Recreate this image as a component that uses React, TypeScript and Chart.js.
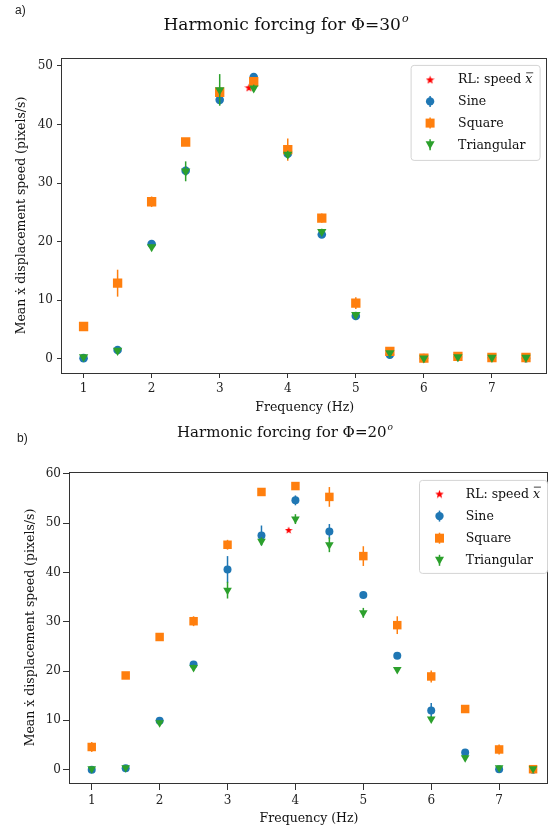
import React, { useEffect, useRef } from "react";
import { Chart, registerables } from "chart.js";

Chart.register(...registerables);

// ---------- data ----------
const freq = [1, 1.5, 2, 2.5, 3, 3.5, 4, 4.5, 5, 5.5, 6, 6.5, 7, 7.5];
const xTicks = [1, 2, 3, 4, 5, 6, 7];

// Phi = 30
const yTicks30 = [0, 10, 20, 30, 40, 50];
const rlFreq30 = [3.43];
const rlSpeed30 = [46.3];
const sine30 = [0.1, 1.5, 19.6, 32.1, 44.2, 48.1, 35.0, 21.2, 7.3, 0.7, 0.1, 0.3, 0.2, 0.1];
const sine30Err = [0.3, 0.3, 0.4, 0.8, 0.8, 0.6, 0.6, 0.5, 0.5, 0.3, 0.1, 0.1, 0.1, 0.1];
const square30 = [5.5, 12.9, 26.8, 37.0, 45.5, 47.3, 35.7, 24.0, 9.5, 1.25, 0.1, 0.4, 0.2, 0.2];
const square30Err = [0.3, 2.3, 0.9, 0.4, 0.8, 0.6, 1.9, 0.8, 1.0, 0.4, 0.1, 0.2, 0.1, 0.1];
const tri30 = [0.3, 1.4, 19.1, 32.0, 45.9, 46.2, 34.9, 21.7, 7.5, 1.0, 0.1, 0.3, 0.2, 0.2];
const tri30Err = [0.3, 0.3, 0.4, 1.7, 2.7, 0.6, 0.6, 0.5, 0.4, 0.3, 0.1, 0.1, 0.1, 0.1];

// Phi = 20
const yTicks20 = [0, 10, 20, 30, 40, 50, 60];
const rlFreq20 = [3.9];
const rlSpeed20 = [48.6];
const sine20 = [0.0, 0.3, 9.9, 21.3, 40.6, 47.5, 54.6, 48.3, 35.4, 23.1, 12.0, 3.5, 0.1, 0.0];
const sine20Err = [0.2, 0.2, 0.4, 0.5, 2.7, 2.0, 1.0, 1.5, 0.4, 0.4, 1.5, 0.7, 0.2, 0.1];
const square20 = [4.6, 19.1, 26.9, 30.1, 45.6, 56.3, 57.5, 55.3, 43.3, 29.3, 18.9, 12.3, 4.1, 0.1];
const square20Err = [1.0, 0.4, 0.4, 1.0, 1.0, 0.4, 0.4, 2.0, 2.0, 1.8, 1.2, 0.8, 1.0, 0.1];
const tri20 = [0.2, 0.4, 9.5, 20.7, 36.4, 46.3, 50.8, 45.6, 31.8, 20.3, 10.3, 2.4, 0.4, 0.2];
const tri20Err = [0.2, 0.2, 0.5, 0.6, 1.7, 0.8, 1.0, 1.5, 1.0, 0.4, 0.5, 0.6, 0.2, 0.1];

const seriesNames = ["Sine", "Square", "Triangular"];

// ---------- styles ----------
const SERIF = "'DejaVu Serif', serif";
const BLUE = "#1f77b4";
const ORANGE = "#ff7f0e";
const GREEN = "#2ca02c";
const RED = "#ff0000";
const AXIS = "#333333";

function makeStar(size: number, color: string) {
  const c = document.createElement("canvas");
  c.width = size;
  c.height = size;
  const ctx = c.getContext("2d")!;
  const cx = size / 2, cy = size / 2 + 0.4, R = size / 2, r = R * 0.42;
  ctx.beginPath();
  for (let i = 0; i < 10; i++) {
    const a = -Math.PI / 2 + (i * Math.PI) / 5;
    const rr = i % 2 === 0 ? R : r;
    ctx.lineTo(cx + rr * Math.cos(a), cy + rr * Math.sin(a));
  }
  ctx.closePath();
  ctx.fillStyle = color;
  ctx.fill();
  return c;
}

function drawMarker(ctx: CanvasRenderingContext2D, kind: string, x: number, y: number, color: string, star: HTMLCanvasElement) {
  ctx.save();
  ctx.fillStyle = color;
  ctx.strokeStyle = color;
  if (kind === "star") {
    ctx.drawImage(star, x - star.width / 2, y - star.height / 2);
    ctx.restore();
    return;
  }
  ctx.lineWidth = 1.5;
  ctx.beginPath();
  ctx.moveTo(x, y - 5.5);
  ctx.lineTo(x, y + 5.5);
  ctx.stroke();
  ctx.beginPath();
  if (kind === "circle") {
    ctx.arc(x, y, 4.2, 0, Math.PI * 2);
  } else if (kind === "rect") {
    ctx.rect(x - 4.5, y - 4.5, 9, 9);
  } else {
    ctx.moveTo(x - 4.5, y - 3.5);
    ctx.lineTo(x + 4.5, y - 3.5);
    ctx.lineTo(x, y + 4.5);
    ctx.closePath();
  }
  ctx.fill();
  ctx.restore();
}

const decorPlugin = {
  id: "decor",
  beforeDatasetDraw(chart: any, args: any) {
    const ds = chart.data.datasets[args.index];
    const err = ds.err;
    if (!err) return;
    const { ctx } = chart;
    const x = chart.scales.x, y = chart.scales.y;
    ctx.save();
    ctx.strokeStyle = ds.backgroundColor;
    ctx.lineWidth = 1.5;
    ds.data.forEach((p: any, i: number) => {
      const px = x.getPixelForValue(p.x);
      ctx.beginPath();
      ctx.moveTo(px, y.getPixelForValue(p.y - err[i]));
      ctx.lineTo(px, y.getPixelForValue(p.y + err[i]));
      ctx.stroke();
    });
    ctx.restore();
  },
  afterDraw(chart: any, _args: any, opts: any) {
    const { ctx, chartArea: ca } = chart;
    ctx.save();
    // frame
    ctx.strokeStyle = AXIS;
    ctx.lineWidth = 1;
    ctx.strokeRect(Math.round(ca.left) - 0.5, Math.round(ca.top) + 0.5, Math.round(ca.right - ca.left), Math.round(ca.bottom - ca.top));

    // panel letter
    ctx.fillStyle = "#222";
    ctx.font = "12px 'Liberation Sans', Arial, sans-serif";
    ctx.textAlign = "left";
    ctx.textBaseline = "middle";
    ctx.fillText(opts.letter, opts.letterX, opts.letterY);

    // title with superscript
    const main = opts.title;
    const sup = "o";
    ctx.font = `${opts.titleSize}px ${SERIF}`;
    const wMain = ctx.measureText(main).width;
    ctx.font = `italic ${Math.round(opts.titleSize * 0.62)}px ${SERIF}`;
    const wSup = ctx.measureText(sup).width;
    const x0 = opts.titleX - (wMain + wSup + 1) / 2;
    ctx.fillStyle = "#111";
    ctx.textBaseline = "alphabetic";
    ctx.font = `${opts.titleSize}px ${SERIF}`;
    ctx.fillText(main, x0, opts.titleY);
    ctx.font = `italic ${Math.round(opts.titleSize * 0.62)}px ${SERIF}`;
    ctx.fillText(sup, x0 + wMain + 1, opts.titleY - opts.titleSize * 0.45);

    // legend
    const lg = opts.legend;
    const bx = ca.right - lg.dxRight - lg.w;
    const by = ca.top + lg.dyTop;
    ctx.beginPath();
    const r = 3;
    ctx.moveTo(bx + r, by);
    ctx.arcTo(bx + lg.w, by, bx + lg.w, by + lg.h, r);
    ctx.arcTo(bx + lg.w, by + lg.h, bx, by + lg.h, r);
    ctx.arcTo(bx, by + lg.h, bx, by, r);
    ctx.arcTo(bx, by, bx + lg.w, by, r);
    ctx.closePath();
    ctx.fillStyle = "rgba(255,255,255,0.85)";
    ctx.fill();
    ctx.strokeStyle = "#d4d4d4";
    ctx.lineWidth = 1;
    ctx.stroke();

    const star = opts.star;
    const items = [
      { kind: "star", color: RED, label: "RL: speed " },
      { kind: "circle", color: BLUE, label: seriesNames[0] },
      { kind: "rect", color: ORANGE, label: seriesNames[1] },
      { kind: "tri", color: GREEN, label: seriesNames[2] },
    ];
    items.forEach((it, i) => {
      const yy = by + lg.row0 + i * lg.rowGap;
      drawMarker(ctx, it.kind, bx + lg.markerX, yy, it.color, star);
      ctx.fillStyle = "#111";
      ctx.font = `${lg.fontSize}px ${SERIF}`;
      ctx.textAlign = "left";
      ctx.textBaseline = "middle";
      ctx.fillText(it.label, bx + lg.textX, yy + 0.5);
      if (i === 0) {
        const w = ctx.measureText(it.label).width;
        ctx.font = `italic ${lg.fontSize}px ${SERIF}`;
        const xw = ctx.measureText("x").width;
        ctx.fillText("x", bx + lg.textX + w, yy + 0.5);
        ctx.strokeStyle = "#111";
        ctx.lineWidth = 0.8;
        ctx.beginPath();
        ctx.moveTo(bx + lg.textX + w + 1, yy - lg.fontSize * 0.55);
        ctx.lineTo(bx + lg.textX + w + xw + 1, yy - lg.fontSize * 0.55);
        ctx.stroke();
      }
    });
    ctx.restore();
  },
};

function buildConfig(p: any) {
  const mk = (vals: number[]) => vals.map((v, i) => ({ x: freq[i], y: v }));
  const star = makeStar(p.starSize, RED);
  return {
    type: "scatter",
    data: {
      datasets: [
        {
          label: "RL",
          data: p.rlF.map((f: number, i: number) => ({ x: f, y: p.rlV[i] })),
          pointStyle: star,
          backgroundColor: RED,
          order: 4,
        },
        {
          label: seriesNames[0],
          data: mk(p.sine),
          err: p.sineErr,
          pointStyle: "circle",
          pointRadius: p.circleR,
          backgroundColor: BLUE,
          borderColor: BLUE,
          pointBorderWidth: 0,
          order: 3,
        },
        {
          label: seriesNames[1],
          data: mk(p.square),
          err: p.squareErr,
          pointStyle: "rect",
          pointRadius: p.rectR,
          backgroundColor: ORANGE,
          borderColor: ORANGE,
          pointBorderWidth: 0,
          order: 2,
        },
        {
          label: seriesNames[2],
          data: mk(p.tri),
          err: p.triErr,
          pointStyle: "triangle",
          rotation: 180,
          pointRadius: p.triR,
          backgroundColor: GREEN,
          borderColor: GREEN,
          pointBorderWidth: 0,
          order: 1,
        },
      ],
    },
    options: {
      responsive: false,
      animation: false,
      devicePixelRatio: 1,
      layout: { padding: p.padding },
      plugins: {
        legend: { display: false },
        tooltip: { enabled: false },
        title: { display: false },
        decor: p.decor,
      },
      scales: {
        x: {
          type: "linear",
          min: p.xMin,
          max: p.xMax,
          afterBuildTicks: (s: any) => { s.ticks = xTicks.map((v) => ({ value: v })); },
          afterFit: (s: any) => { s.height = p.xHeight; s.paddingLeft = 0; s.paddingRight = 0; },
          ticks: { color: "#222", font: { family: SERIF, size: p.tickSize }, padding: p.xTickPad, maxRotation: 0, callback: (v: number) => String(v) },
          grid: { display: true, drawOnChartArea: false, drawTicks: true, tickLength: p.tickLen, color: AXIS, tickColor: AXIS },
          border: { display: false },
          title: { display: true, text: "Frequency (Hz)", color: "#111", font: { family: SERIF, size: p.axisTitleSize }, padding: { top: 0, bottom: p.xTitlePad } },
        },
        y: {
          type: "linear",
          min: p.yMin,
          max: p.yMax,
          afterBuildTicks: (s: any) => { s.ticks = p.yTicks.map((v: number) => ({ value: v })); },
          afterFit: (s: any) => { s.width = p.yWidth; s.paddingTop = 0; s.paddingBottom = 0; },
          ticks: { color: "#222", font: { family: SERIF, size: p.tickSize }, padding: p.yTickPad, callback: (v: number) => String(v) },
          grid: { display: true, drawOnChartArea: false, drawTicks: true, tickLength: p.tickLen, color: AXIS, tickColor: AXIS },
          border: { display: false },
          title: { display: true, text: "Mean ẋ displacement speed (pixels/s)", color: "#111", font: { family: SERIF, size: p.axisTitleSize }, padding: { top: p.yTitlePad, bottom: 0 } },
        },
      },
    },
    plugins: [decorPlugin],
  };
}

const legendTop = { dxRight: 7.3, dyTop: 7.4, w: 129, h: 95, row0: 14.3, rowGap: 21.7, markerX: 19, textX: 47, fontSize: 12.5 };
const legendBottom = { dxRight: 0.5, dyTop: 8.4, w: 128, h: 93, row0: 13.6, rowGap: 22.1, markerX: 20, textX: 46.3, fontSize: 12.5 };

function Panel(props: { cfg: any; width: number; height: number; top: number }) {
  const ref = useRef<HTMLCanvasElement | null>(null);
  useEffect(() => {
    if (!ref.current) return;
    const chart = new Chart(ref.current, buildConfig(props.cfg) as any);
    return () => chart.destroy();
  }, []);
  return (
    <canvas
      ref={ref}
      width={props.width}
      height={props.height}
      style={{ position: "absolute", left: 0, top: props.top, width: props.width, height: props.height }}
    />
  );
}

export default function App() {
  const topCfg = {
    rlF: rlFreq30, rlV: rlSpeed30,
    sine: sine30, sineErr: sine30Err, square: square30, squareErr: square30Err, tri: tri30, triErr: tri30Err,
    yTicks: yTicks30, xMin: 0.683, xMax: 7.815, yMin: -2.44, yMax: 51.35,
    padding: { left: 0, top: 58, right: 5, bottom: 0 },
    xHeight: 42, yWidth: 62,
    tickSize: 12, axisTitleSize: 12.5, tickLen: 5, xTickPad: 4, yTickPad: 4, xTitlePad: 0, yTitlePad: 14,
    circleR: 4.3, rectR: 6.6, triR: 5.4, starSize: 9,
    decor: { letter: "a)", letterX: 15, letterY: 11, title: "Harmonic forcing for Φ=30", titleSize: 17, titleX: 286, titleY: 30, legend: legendTop, star: makeStar(9, RED) },
  };
  const botCfg = {
    rlF: rlFreq20, rlV: rlSpeed20,
    sine: sine20, sineErr: sine20Err, square: square20, squareErr: square20Err, tri: tri20, triErr: tri20Err,
    yTicks: yTicks20, xMin: 0.68, xMax: 7.72, yMin: -2.7, yMax: 60.35,
    padding: { left: 0, top: 57, right: 4, bottom: 0 },
    xHeight: 48, yWidth: 70,
    tickSize: 12, axisTitleSize: 12.5, tickLen: 7, xTickPad: 4, yTickPad: 2, xTitlePad: 5, yTitlePad: 23,
    circleR: 4.0, rectR: 6.0, triR: 5.0, starSize: 8,
    decor: { letter: "b)", letterX: 17, letterY: 24, title: "Harmonic forcing for Φ=20", titleSize: 15, titleX: 285, titleY: 22, legend: legendBottom, star: makeStar(9, RED) },
  };
  return (
    <div style={{ position: "absolute", left: 0, top: 0, width: 554, height: 831, background: "#fff", overflow: "hidden" }}>
      <Panel cfg={topCfg} width={554} height={415} top={0} />
      <Panel cfg={botCfg} width={554} height={416} top={415} />
    </div>
  );
}
